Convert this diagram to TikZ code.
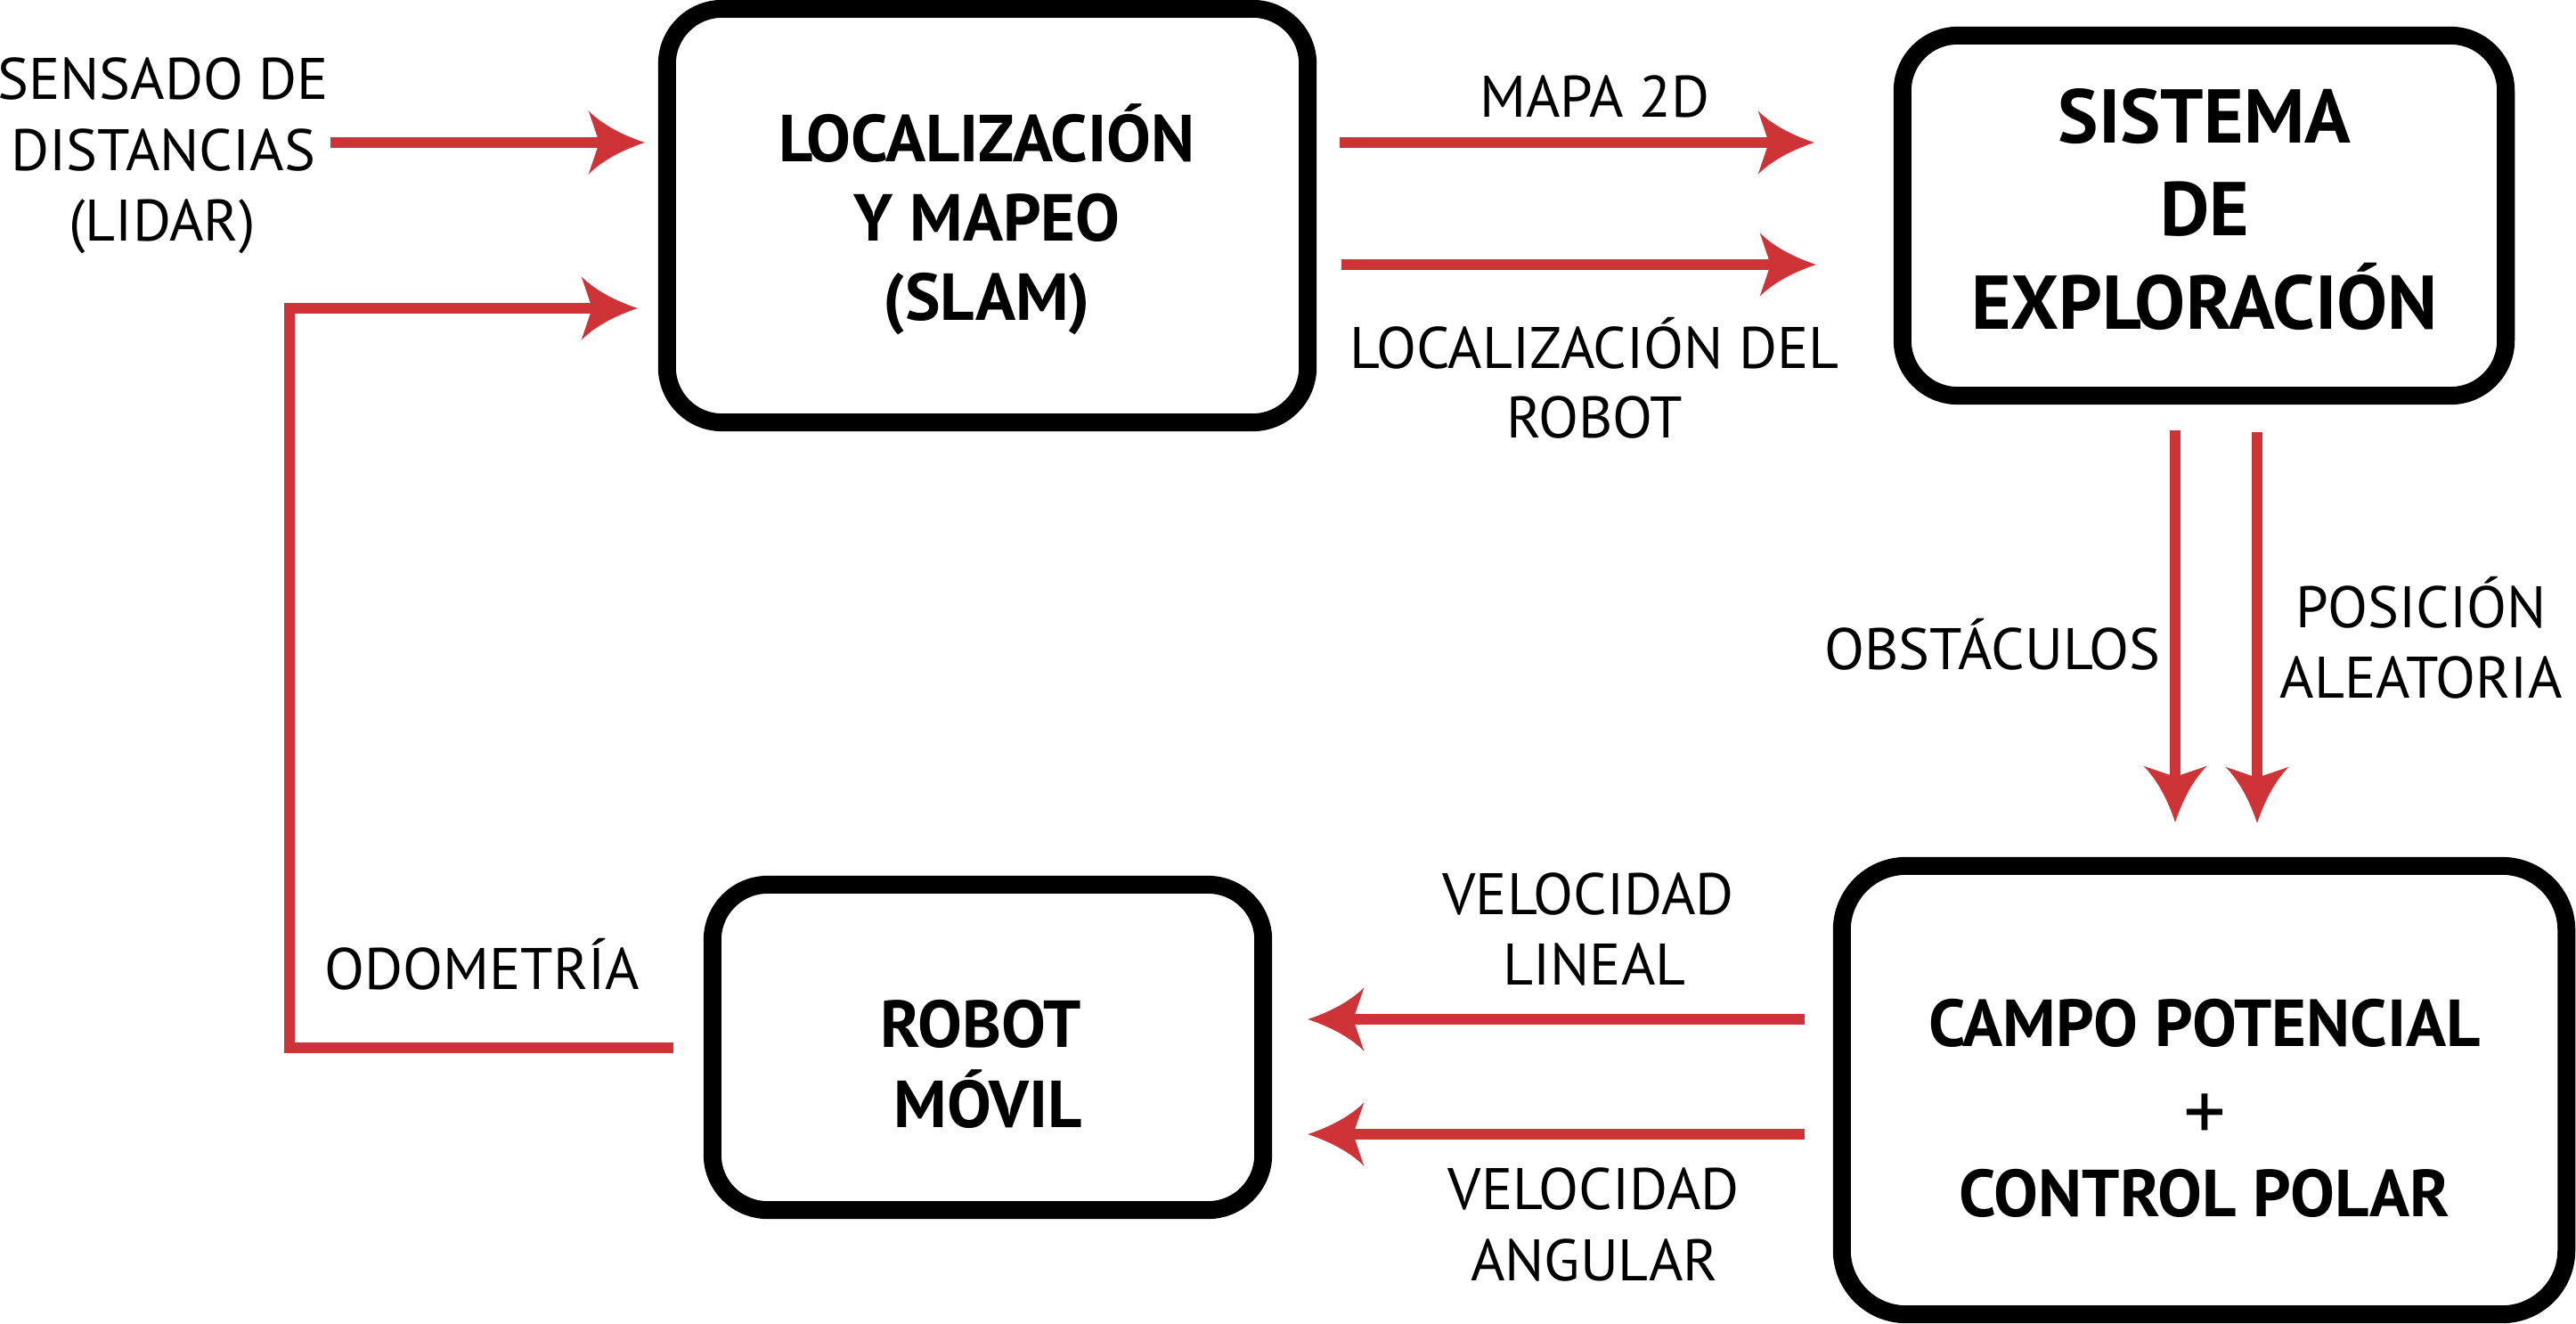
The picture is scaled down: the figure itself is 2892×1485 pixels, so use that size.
\documentclass[tikz,border=0pt]{standalone}
\usepackage{fontspec}
\setmainfont{PT Sans}
\usetikzlibrary{calc,arrows.meta}
\definecolor{redarr}{RGB}{205,51,55}

\pgfdeclarearrow{
  name = RH,
  setup code = {
    \pgfarrowssettipend{0pt}
    \pgfarrowssetlineend{-14pt}
    \pgfarrowssetbackend{-17.93pt}
    \pgfarrowssetvisualbackend{-15.08pt}
    \pgfarrowsupperhullpoint{0pt}{0pt}
    \pgfarrowsupperhullpoint{-17.93pt}{10.1pt}
  },
  drawing code = {
    \pgfpathmoveto{\pgfpoint{0pt}{0pt}}
    \pgfpathcurveto{\pgfpoint{-6pt}{2.0pt}}{\pgfpoint{-13pt}{5.2pt}}{\pgfpoint{-17.93pt}{10.1pt}}
    \pgfpathlineto{\pgfpoint{-15.08pt}{1.71pt}}
    \pgfpathlineto{\pgfpoint{-15.08pt}{-1.71pt}}
    \pgfpathlineto{\pgfpoint{-17.93pt}{-10.1pt}}
    \pgfpathcurveto{\pgfpoint{-13pt}{-5.2pt}}{\pgfpoint{-6pt}{-2.0pt}}{\pgfpoint{0pt}{0pt}}
    \pgfpathclose
    \pgfusepathqfill
  }
}

\tikzset{
  box/.style={draw=black, line width=5.69pt, rounded corners=0.62cm, inner sep=0pt},
  conn/.style={draw=redarr, line width=3.41pt, -{RH}, line join=miter},
  lbl/.style={inner sep=0pt, font=\fontsize{18.7pt}{22pt}\selectfont, text height=13.1pt, text depth=0pt},
  blbl/.style={inner sep=0pt, font=\bfseries\fontsize{21.2pt}{25pt}\selectfont, text height=14.5pt, text depth=0pt},
  bbig/.style={inner sep=0pt, font=\bfseries\fontsize{24.3pt}{28pt}\selectfont, text height=16.7pt, text depth=0pt},
}

\begin{document}
\begin{tikzpicture}[x=0.01cm,y=-0.01cm]
\useasboundingbox (0,0) rectangle (2892,1485);

% boxes
\node[box, minimum width=7.19cm, minimum height=4.64cm] (slam) at (1108.5,242) {};
\node[box, minimum width=6.77cm, minimum height=4.04cm] (sis) at (2474.5,242) {};
\node[box, minimum width=6.18cm, minimum height=3.65cm] (rob) at (1109,1175.5) {};
\node[box, minimum width=8.13cm, minimum height=5.03cm, rounded corners=0.72cm] (cam) at (2474.5,1223.5) {};

% box texts
\node[blbl] (slamA) at (1108,156) {LOCALIZACIÓN};
\node[blbl] (slamB) at (1108,245) {Y MAPEO};
\node[blbl] (slamC) at (1108,334) {(SLAM)};
\node[bbig] (sisA) at (2475,131) {SISTEMA};
\node[bbig] (sisB) at (2475,235) {DE};
\node[bbig] (sisC) at (2475,340) {EXPLORACIÓN};
\node[blbl] (robA) at (1101,1150) {ROBOT};
\node[blbl] (robB) at (1109,1240) {MÓVIL};
\node[blbl] (camA) at (2475,1149) {CAMPO POTENCIAL};
\node[inner sep=0pt, font=\fontsize{27pt}{30pt}\selectfont] (camB) at (2475,1254) {+};
\node[blbl] (camC) at (2475,1340) {CONTROL POLAR};

% labels
\node[lbl] (lid1) at (183,88) {SENSADO DE};
\node[lbl] (lid2) at (183,168) {DISTANCIAS};
\node[lbl] (lid3) at (182,247) {(LIDAR)};
\node[lbl] (map) at (1790,108) {MAPA 2D};
\node[lbl] (loc1) at (1790,390) {LOCALIZACIÓN DEL};
\node[lbl] (loc2) at (1790,468) {ROBOT};
\node[lbl] (obs) at (2237,728) {OBSTÁCULOS};
\node[lbl] (pos1) at (2718,681) {POSICIÓN};
\node[lbl] (pos2) at (2718,760) {ALEATORIA};
\node[lbl] (vl1) at (1783,1003) {VELOCIDAD};
\node[lbl] (vl2) at (1790,1082) {LINEAL};
\node[lbl] (va1) at (1789,1334) {VELOCIDAD};
\node[lbl] (va2) at (1790,1414) {ANGULAR};
\node[lbl] (odo) at (541,1087) {ODOMETRÍA};

% connectors
\coordinate (c1) at (371,160);
\draw[conn, shorten >=0.15cm] (c1) -- (slam.west |- c1);

\coordinate (odoc) at (325,346);
\draw[conn, shorten <=0.34cm, shorten >=0.23cm] (rob.west) -| (odoc) -- (slam.west |- odoc);

\coordinate (c3) at ($(slam.east)+(0,-82)$);
\draw[conn, shorten <=0.26cm, shorten >=0.89cm] (c3) -- (sis.west |- c3);
\coordinate (c4) at ($(slam.east)+(0,55)$);
\draw[conn, shorten <=0.28cm, shorten >=0.87cm] (c4) -- (sis.west |- c4);

\coordinate (c5) at ($(sis.south)+(-32.5,0)$);
\draw[conn, shorten <=0.29cm, shorten >=0.39cm] (c5) -- (cam.north -| c5);
\coordinate (c6) at ($(sis.south)+(59.5,0)$);
\draw[conn, shorten <=0.31cm, shorten >=0.38cm] (c6) -- (cam.north -| c6);

\coordinate (c7) at ($(cam.west)+(0,-79.5)$);
\draw[conn, shorten <=0.32cm, shorten >=0.40cm] (c7) -- (rob.east |- c7);
\coordinate (c8) at ($(cam.west)+(0,49.5)$);
\draw[conn, shorten <=0.32cm, shorten >=0.40cm] (c8) -- (rob.east |- c8);
\end{tikzpicture}
\end{document}
